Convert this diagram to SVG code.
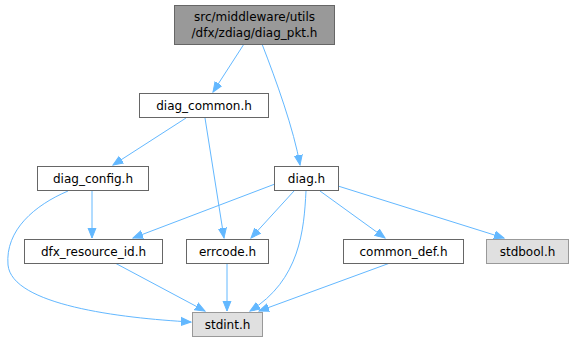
<svg xmlns="http://www.w3.org/2000/svg" width="574" height="344" viewBox="0 0 574 344">
<style>
.n rect{fill:#ffffff;stroke:#666666;stroke-width:1}
.g rect{fill:#e0e0e0;stroke:#999999;stroke-width:1}
.r rect{fill:#999999;stroke:#666666;stroke-width:1}
text{font-family:"DejaVu Sans",sans-serif;font-size:12px;fill:#000000;text-anchor:middle}
.e path{fill:none;stroke:#63b8ff;stroke-width:1}
</style>
<defs>
<marker id="a" markerWidth="11" markerHeight="10" refX="10" refY="5" orient="auto" markerUnits="userSpaceOnUse">
<path d="M0,1 L10,5 L0,9 Z" fill="#63b8ff" stroke="#63b8ff"/>
</marker>
</defs>
<rect width="574" height="344" fill="#ffffff"/>
<g class="e" id="edges">
<path d="M244,44 L213,92" marker-end="url(#a)"/>
<path d="M262,44 C276,80 294,130 300,165" marker-end="url(#a)"/>
<path d="M186,118 L113,165" marker-end="url(#a)"/>
<path d="M205,118 L224,238" marker-end="url(#a)"/>
<path d="M92,191 L92,238" marker-end="url(#a)"/>
<path d="M68,191 C35,205 5,230 8,265 C12,305 120,318 191,322" marker-end="url(#a)"/>
<path d="M275,184 L133,238" marker-end="url(#a)"/>
<path d="M294,191 L251,238" marker-end="url(#a)"/>
<path d="M306,191 C304,230 300,280 250,311" marker-end="url(#a)"/>
<path d="M320,191 L385,238" marker-end="url(#a)"/>
<path d="M338,186 L504,238" marker-end="url(#a)"/>
<path d="M115,263 L205,311" marker-end="url(#a)"/>
<path d="M227,263 L227,311" marker-end="url(#a)"/>
<path d="M390,263 L259,311" marker-end="url(#a)"/>
</g>
<g id="diag_pkt" class="r"><rect x="174.5" y="5.5" width="160" height="39"/><text x="254.5" y="21">src/middleware/utils</text><text x="254.5" y="37">/dfx/zdiag/diag_pkt.h</text></g>
<g id="diag_common" class="n"><rect x="139.5" y="93.5" width="129" height="24"/><text x="204" y="110">diag_common.h</text></g>
<g id="diag_config" class="n"><rect x="37.5" y="166.5" width="111" height="24"/><text x="93" y="183">diag_config.h</text></g>
<g id="diag" class="n"><rect x="274.5" y="166.5" width="64" height="24"/><text x="306.5" y="183">diag.h</text></g>
<g id="dfx_resource_id" class="n"><rect x="24.5" y="239.5" width="138" height="24"/><text x="93.5" y="256">dfx_resource_id.h</text></g>
<g id="errcode" class="n"><rect x="186.5" y="239.5" width="82" height="24"/><text x="227.5" y="256">errcode.h</text></g>
<g id="common_def" class="n"><rect x="343.5" y="239.5" width="120" height="24"/><text x="403.5" y="256">common_def.h</text></g>
<g id="stdbool" class="g"><rect x="486.5" y="239.5" width="82" height="24"/><text x="527.5" y="256">stdbool.h</text></g>
<g id="stdint" class="g"><rect x="192.5" y="312.5" width="70" height="24"/><text x="227.5" y="329">stdint.h</text></g>
</svg>
